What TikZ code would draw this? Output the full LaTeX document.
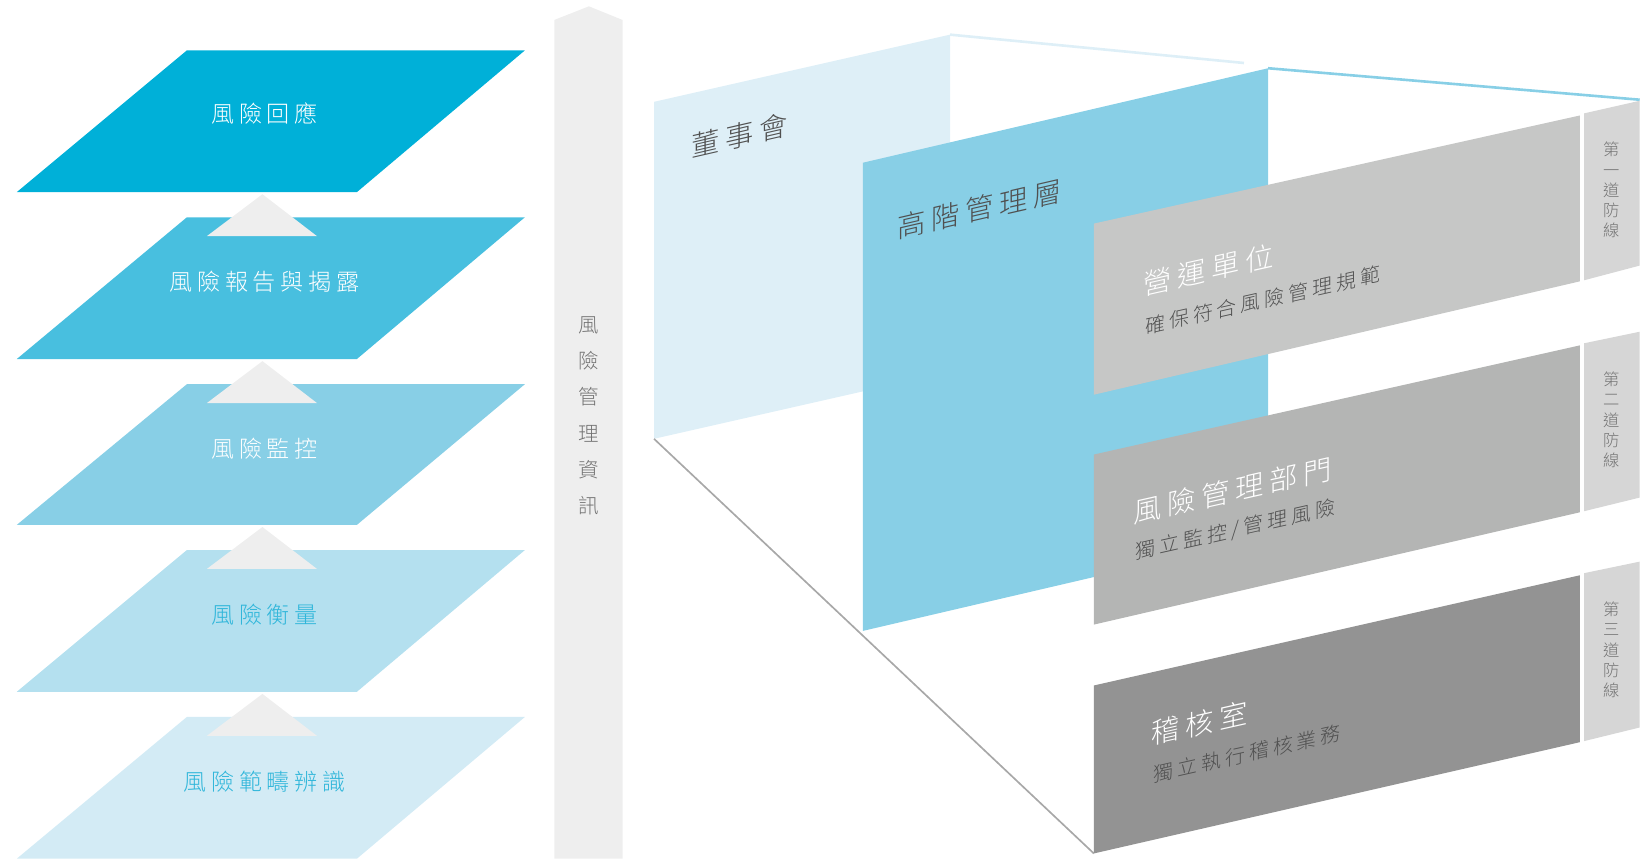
\documentclass[tikz,border=0pt]{standalone}
\usepackage{fontspec}
\usepackage{xcolor}
\newfontfamily\cjk{Noto Sans CJK TC Light}[LetterSpace=20]

\definecolor{layerA}{HTML}{00B0D8}
\definecolor{layerB}{HTML}{48BFDF}
\definecolor{layerC}{HTML}{88CFE6}
\definecolor{layerD}{HTML}{B4E0EF}
\definecolor{layerE}{HTML}{D3EBF5}
\definecolor{arrowgray}{HTML}{EEEEEE}
\definecolor{boardblue}{HTML}{DEEFF7}
\definecolor{mgmtblue}{HTML}{88CFE6}
\definecolor{unitgray}{HTML}{C6C7C6}
\definecolor{riskgray}{HTML}{B4B5B4}
\definecolor{auditgray}{HTML}{939393}
\definecolor{tabgray}{HTML}{D6D6D6}
\definecolor{labelblue}{HTML}{2FB6DA}
\definecolor{textgray}{HTML}{505050}
\definecolor{floorgray}{HTML}{A8A8A8}

\begin{document}
\begin{tikzpicture}[x=1pt,y=-1pt,
    steplabel/.style={font=\cjk\fontsize{22}{26}\selectfont},
    wallhead/.style={font=\cjk\fontsize{27}{30}\selectfont, text=textgray, yslant=0.23},
    boxhead/.style={font=\cjk\fontsize{27}{30}\selectfont, text=white, yslant=0.225},
    boxsub/.style={font=\cjk\fontsize{19}{22}\selectfont, text=textgray, yslant=0.225},
    tabtext/.style={font=\cjk\fontsize{15.5}{19.2}\selectfont, text=textgray!80, align=center},
    uptri/.style={fill=arrowgray},
    topline/.style={line width=2.5pt}]
        \useasboundingbox (0,0) rectangle (1568,819);

        % Draw the process layers
        \fill[layerA] (178,48) -- (500,48) -- (340,183) -- (16,183) -- cycle;
        \fill[layerB] (178,207) -- (500,207) -- (340,342) -- (16,342) -- cycle;
        \fill[layerC] (178,366) -- (500,366) -- (340,500) -- (16,500) -- cycle;
        \fill[layerD] (178,524) -- (500,524) -- (340,659) -- (16,659) -- cycle;
        \fill[layerE] (178,683) -- (500,683) -- (340,818) -- (16,818) -- cycle;

        % Arrows between the layers
        \fill[uptri] (250,185) -- (302,225) -- (197,225) -- cycle;
        \fill[uptri] (250,344) -- (302,384) -- (197,384) -- cycle;
        \fill[uptri] (250,502) -- (302,542) -- (197,542) -- cycle;
        \fill[uptri] (250,661) -- (302,701) -- (197,701) -- cycle;

        % Labels for the layers
        \node[steplabel, text=white] (respond) at (252,108) {風險回應};
        \node[steplabel, text=white] (report) at (252,268) {風險報告與揭露};
        \node[steplabel, text=white] (monitor) at (252,427) {風險監控};
        \node[steplabel, text=labelblue] (measure) at (252,586) {風險衡量};
        \node[steplabel, text=labelblue] (identify) at (252,745) {風險範疇辨識};

        % Information bar
        \fill[arrowgray] (528,818) -- (528,19) -- (561,6) -- (593,19) -- (593,818) -- cycle;
        \node[font=\cjk\fontsize{19.5}{34.6}\selectfont, text=black!55, align=center]
            (info) at (561,396) {風\\險\\管\\理\\資\\訊};

        % Board and senior management walls
        \coordinate (boardfoot) at (623,418);
        \coordinate (auditfoot) at (1042,813);
        \fill[boardblue] (623,97) -- (905,33) -- (905,354) -- (623,418) -- cycle;
        \draw[topline, boardblue] (905,33) -- (1185,60);
        \draw[floorgray, line width=1.6pt] (boardfoot) -- (auditfoot);
        \fill[mgmtblue] (822,155) -- (1208,65) -- (1208,511) -- (822,601) -- cycle;
        \draw[topline, mgmtblue] (1208,65) -- (1562,95);

        \node[wallhead] (board) at (705,129) {董事會};
        \node[wallhead] (senior) at (933,199) {高階管理層};

        % The three lines of defence
        \fill[unitgray] (1042,213) -- (1505,110) -- (1505,268) -- (1042,376) -- cycle;
        \fill[riskgray] (1042,433) -- (1505,329) -- (1505,488) -- (1042,595) -- cycle;
        \fill[auditgray] (1042,653) -- (1505,548) -- (1505,707) -- (auditfoot) -- cycle;

        \fill[tabgray] (1509,108) -- (1562,96) -- (1562,253) -- (1509,267) -- cycle;
        \fill[tabgray] (1509,327) -- (1562,316) -- (1562,474) -- (1509,487) -- cycle;
        \fill[tabgray] (1509,546) -- (1562,535) -- (1562,693) -- (1509,706) -- cycle;

        \node[boxhead] (unit) at (1151,257) {營運單位};
        \node[boxsub] (unitsub) at (1203,286) {確保符合風險管理規範};
        \node[boxhead] (riskdept) at (1174,467) {風險管理部門};
        \node[boxsub] (riskdeptsub) at (1177,505) {獨立監控/管理風險};
        \node[boxhead] (audit) at (1143,689) {稽核室};
        \node[boxsub] (auditsub) at (1188,718) {獨立執行稽核業務};

        \node[tabtext] (first) at (1535,181) {第\\一\\道\\防\\線};
        \node[tabtext] (second) at (1535,400) {第\\二\\道\\防\\線};
        \node[tabtext] (third) at (1535,619) {第\\三\\道\\防\\線};
    \end{tikzpicture}
\end{document}
